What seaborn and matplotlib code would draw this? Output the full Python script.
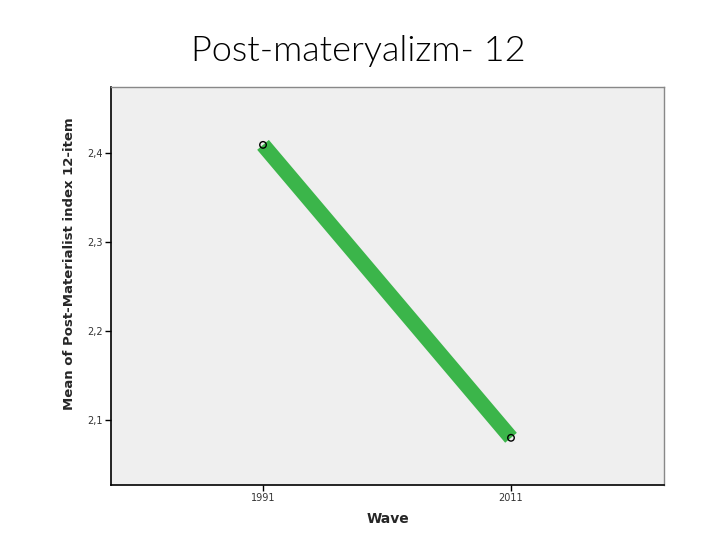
import pandas as pd
import matplotlib.pyplot as plt
import matplotlib.ticker as mticker
import seaborn as sns

waves = ['1991', '2011']
means = [2.409, 2.080]

df = pd.DataFrame({'Wave': waves, 'Mean': means})

sns.set_style('white')
fig = plt.figure(figsize=(7.2, 5.4), dpi=100)
ax = fig.add_axes([111 / 720, 1 - 485 / 540, 553 / 720, 398 / 540])
ax.set_facecolor('#efefef')

sns.lineplot(data=df, x='Wave', y='Mean', ax=ax, color='#3bb54a', linewidth=11,
             solid_capstyle='butt', sort=False)
ax.scatter(range(len(waves)), means, s=22, facecolors='none', edgecolors='black',
           linewidths=1, zorder=5)

ax.set_xlim(-0.613, 1.617)
ax.set_ylim(2.027, 2.474)
ax.yaxis.set_major_locator(mticker.MultipleLocator(0.1))
ax.yaxis.set_major_formatter(mticker.FuncFormatter(lambda v, p: f'{v:.1f}'.replace('.', ',')))
ax.tick_params(axis='both', which='major', length=4, width=1, color='black',
               labelsize=7, labelcolor='#333333', left=True, bottom=True, pad=2)

for s in ['top', 'right']:
    ax.spines[s].set_color('#888888')
    ax.spines[s].set_linewidth(1)
for s in ['left', 'bottom']:
    ax.spines[s].set_color('black')
    ax.spines[s].set_linewidth(1.2)

ax.set_xlabel('Wave', fontsize=10, fontweight='bold', family='DejaVu Sans', labelpad=6)
ax.set_ylabel('Mean of Post-Materialist index 12-item', fontsize=9.5, fontweight='bold',
              family='DejaVu Sans', labelpad=4)
ax.yaxis.set_label_coords(-0.063, 0.555)

fig.text(0.498, 0.905, 'Post-materyalizm- 12', ha='center', va='center',
         fontsize=26, family='Lato', fontweight=300, color='black')

fig.savefig('out.png', dpi=100)
